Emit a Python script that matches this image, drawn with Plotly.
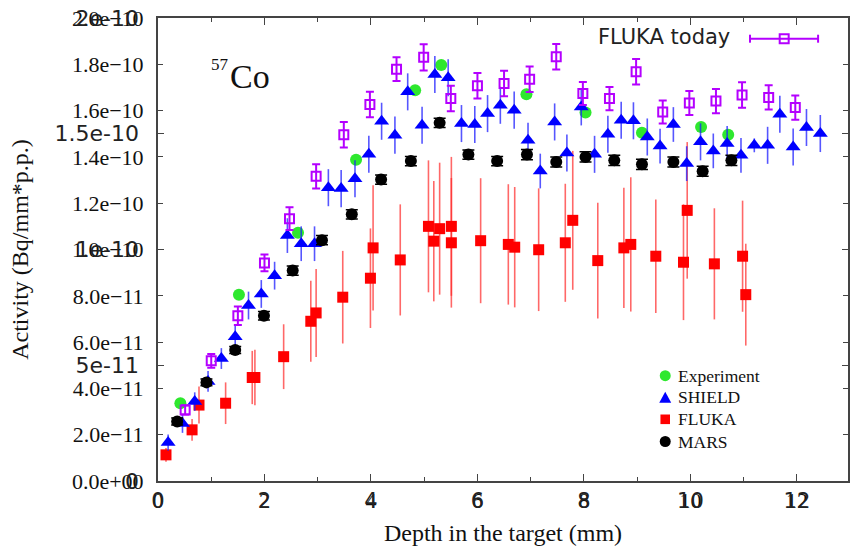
import numpy as np
import plotly.graph_objects as go

# ---------------- data (activity values in units of 1e-11 Bq/mm*p.p.) ----------------
SCALE = 1e-11

exp_depth = [0.42, 1.52, 2.63, 3.72, 4.83, 5.32, 6.92, 8.03, 9.09, 10.20, 10.71]
exp_act = [3.36, 8.05, 10.72, 13.88, 16.88, 17.97, 16.71, 15.92, 15.04, 15.29, 14.96]

shield_depth = [0.19, 0.46, 0.69, 0.94, 1.19, 1.45, 1.70, 1.94, 2.19, 2.43,
                2.69, 2.94, 3.20, 3.44, 3.70, 3.96, 4.20, 4.45, 4.69, 4.96,
                5.20, 5.45, 5.70, 5.95, 6.19, 6.43, 6.69, 6.95, 7.18, 7.45,
                7.68, 7.95, 8.20, 8.45, 8.70, 8.93, 9.19, 9.43, 9.68, 9.93,
                10.19, 10.43, 10.69, 10.95, 11.20, 11.45, 11.68, 11.93, 12.18, 12.44]
shield_act = [1.66, 2.48, 3.43, 4.30, 5.29, 6.23, 7.58, 8.08, 8.87, 10.60,
              10.25, 10.25, 12.67, 12.63, 13.06, 14.11, 15.54, 14.94, 16.81, 15.37,
              17.56, 17.42, 15.44, 15.40, 15.87, 16.23, 16.02, 14.72, 13.39, 15.51,
              14.17, 16.16, 14.11, 14.98, 15.58, 15.56, 14.86, 14.47, 15.40, 13.71,
              14.65, 14.26, 14.58, 14.07, 14.50, 14.50, 15.84, 14.43, 15.27, 15.01]
shield_err = [0.35, 0.40, 0.40, 0.45, 0.45, 0.50, 0.60, 0.60, 0.60, 0.75,
              0.75, 0.75, 0.80, 0.80, 0.80, 0.80, 0.80, 0.80, 0.80, 0.80,
              0.80, 0.80, 0.80, 0.80, 0.80, 0.80, 0.80, 0.75, 0.75, 0.80,
              0.80, 0.80, 0.80, 0.80, 0.80, 0.80, 0.80, 0.75, 0.75, 0.75,
              0.80, 0.75, 0.75, 0.75, 0.30, 0.80, 0.80, 0.80, 0.80, 0.80]

fluka_depth = [0.15, 0.64, 0.77, 1.27, 1.77, 1.82, 2.36, 2.87, 2.97, 3.47,
               3.99, 4.04, 4.55, 5.08, 5.18, 5.29, 5.51, 5.51, 6.06, 6.58,
               6.70, 7.15, 7.65, 7.79, 8.26, 8.75, 8.88, 9.35, 9.87, 9.94,
               10.45, 10.98, 11.04]
fluka_act = [1.13, 2.21, 3.28, 3.36, 4.47, 4.47, 5.37, 6.90, 7.26, 7.94,
             8.76, 10.07, 9.55, 11.00, 10.36, 10.90, 11.00, 10.29, 10.38, 10.22,
             10.10, 9.99, 10.29, 11.26, 9.52, 10.07, 10.22, 9.71, 9.45, 11.69,
             9.38, 9.71, 8.05]
fluka_err = [0.30, 0.47, 0.80, 0.90, 1.15, 1.20, 1.40, 1.75, 1.90, 2.00,
             2.15, 2.70, 2.40, 2.85, 2.60, 2.85, 3.00, 2.80, 2.70, 2.60,
             2.60, 2.65, 2.55, 3.00, 2.50, 2.60, 2.90, 2.45, 2.50, 2.95,
             2.40, 2.40, 2.20]

mars_depth = [0.36, 0.91, 1.45, 1.99, 2.53, 3.08, 3.64, 4.19, 4.75, 5.29,
              5.83, 6.37, 6.93, 7.48, 8.03, 8.57, 9.09, 9.68, 10.23, 10.77]
mars_act = [2.57, 4.26, 5.66, 7.14, 9.09, 10.40, 11.52, 13.02, 13.82, 15.47,
            14.10, 13.82, 14.10, 13.78, 14.00, 13.85, 13.68, 13.78, 13.38, 13.85]
mars_err = [0.15, 0.15, 0.15, 0.18, 0.20, 0.20, 0.20, 0.20, 0.20, 0.20,
            0.20, 0.20, 0.22, 0.22, 0.22, 0.22, 0.22, 0.22, 0.22, 0.22]

today_depth = [0.51, 1.00, 1.50, 2.00, 2.47, 2.97, 3.49, 3.98, 4.48, 4.99,
               5.50, 6.00, 6.50, 6.98, 7.48, 7.98, 8.48, 8.98, 9.48, 9.98,
               10.48, 10.97, 11.47, 11.97]
today_act = [3.07, 5.19, 7.14, 9.42, 11.33, 13.16, 14.96, 16.26, 17.79, 18.30,
             16.52, 17.07, 17.17, 17.35, 18.33, 16.74, 16.52, 17.68, 15.94, 16.33,
             16.41, 16.67, 16.57, 16.13]
today_err = [0.20, 0.30, 0.40, 0.36, 0.49, 0.52, 0.55, 0.55, 0.51, 0.57,
             0.55, 0.55, 0.55, 0.55, 0.55, 0.50, 0.50, 0.55, 0.50, 0.52,
             0.52, 0.55, 0.52, 0.52]

x_tickvals = [0, 2, 4, 6, 8, 10, 12]
x_ticktext = ["0", "2", "4", "6", "8", "10", "12"]
y_tickvals = [0, 2e-11, 4e-11, 6e-11, 8e-11, 1e-10, 1.2e-10, 1.4e-10, 1.6e-10, 1.8e-10, 2e-10]
y_ticktext = ["0.0e+00", "2.0e\u221211", "4.0e\u221211", "6.0e\u221211", "8.0e\u221211",
              "1.0e\u221210", "1.2e\u221210", "1.4e\u221210", "1.6e\u221210", "1.8e\u221210",
              "2.0e\u221210"]
y2_tickvals = [0, 5e-11, 1e-10, 1.5e-10, 2e-10]
y2_ticktext = ["0", "5e-11", "1e-10", "1.5e-10", "2e-10"]

legend_names = ["Experiment", "SHIELD", "FLUKA", "MARS"]
legend_colors = ["#2ee82e", "#0000ff", "#ff0000", "#000000"]
legend_symbols = ["circle", "triangle", "square", "circle"]

SERIF = "Liberation Serif, Times New Roman, serif"
SANS = "DejaVu Sans, sans-serif"
PURPLE = "#b400ff"
AX = "#444444"

# layout geometry (pixels) used only for placing the decorative key/labels
W, H = 850, 548
ML, MR, MT, MB = 158, 0, 18, 67
PW, PH = W - ML - MR, H - MT - MB


def px2x(px):
    return (px - ML) / PW


def py2y(py):
    return (H - MB - py) / PH


def sc(v):
    return np.array(v) * SCALE


fig = go.Figure()

fig.add_trace(go.Scatter(
    x=fluka_depth, y=sc(fluka_act), mode="markers", name="FLUKA",
    marker=dict(symbol="square", size=11, color="#ff0000"),
    error_y=dict(type="data", array=sc(fluka_err), color="rgba(255,40,40,0.7)",
                 thickness=1.6, width=0)))
fig.add_trace(go.Scatter(
    x=exp_depth, y=sc(exp_act), mode="markers", name="Experiment",
    marker=dict(symbol="circle", size=12, color="#2ee82e")))
fig.add_trace(go.Scatter(
    x=shield_depth, y=sc(shield_act), mode="markers", name="SHIELD",
    marker=dict(symbol="triangle-up", size=13, color="#0000ff"),
    error_y=dict(type="data", array=sc(shield_err), color="rgba(30,30,255,0.75)",
                 thickness=1.6, width=0)))
fig.add_trace(go.Scatter(
    x=mars_depth, y=sc(mars_act), mode="markers", name="MARS",
    marker=dict(symbol="circle", size=12, color="#000000"),
    error_y=dict(type="data", array=sc(mars_err), color="#000000",
                 thickness=1.5, width=6)))
fig.add_trace(go.Scatter(
    x=today_depth, y=sc(today_act), mode="markers", name="FLUKA today",
    marker=dict(symbol="square-open", size=9, color=PURPLE, line=dict(width=2, color=PURPLE)),
    error_y=dict(type="data", array=sc(today_err), color=PURPLE, thickness=2, width=4)))
# empty trace so the overlaid (second) axes are drawn
fig.add_trace(go.Scatter(x=[], y=[], xaxis="x2", yaxis="y2", hoverinfo="skip"))

fig.update_layout(
    width=W, height=H,
    margin=dict(l=ML, r=MR, t=MT, b=MB),
    paper_bgcolor="white", plot_bgcolor="white",
    showlegend=False,
    xaxis=dict(range=[0, 12.96], tickmode="array", tickvals=x_tickvals, ticktext=x_ticktext,
               tickfont=dict(family=SERIF, size=22, color="#111111"),
               ticks="inside", ticklen=7, tickwidth=1, tickcolor=AX,
               minor=dict(tickmode="linear", tick0=0, dtick=1, ticks="inside", ticklen=4,
                          tickcolor=AX, tickwidth=1, showgrid=False),
               showline=True, linewidth=2, linecolor=AX, mirror="ticks",
               showgrid=False, zeroline=False, ticklabelstandoff=-1,
               title=dict(text="Depth in the target (mm)",
                          font=dict(family=SERIF, size=24, color="#111111"), standoff=12)),
    yaxis=dict(range=[0, 2e-10], tickmode="array", tickvals=y_tickvals, ticktext=y_ticktext,
               tickfont=dict(family=SERIF, size=22, color="#111111"),
               ticks="inside", ticklen=5, tickwidth=1, tickcolor=AX,
               showline=True, linewidth=2, linecolor=AX, mirror="ticks",
               showgrid=False, zeroline=False, ticklabelstandoff=8,
               title=dict(text="Activity (Bq/mm*p.p.)",
                          font=dict(family=SERIF, size=24, color="#111111"), standoff=37)),
    xaxis2=dict(overlaying="x", anchor="y", side="bottom", range=[0, 12.96],
                tickmode="array", tickvals=x_tickvals, ticktext=x_ticktext,
                tickfont=dict(family=SANS, size=21, color="#222222"),
                ticks="inside", ticklen=5, tickcolor=AX, mirror="ticks",
                showline=False, showgrid=False, zeroline=False, ticklabelstandoff=5),
    yaxis2=dict(overlaying="y", anchor="x", side="left", range=[0, 2e-10],
                tickmode="array", tickvals=y2_tickvals, ticktext=y2_ticktext,
                tickfont=dict(family=SANS, size=22, color="#222222"),
                ticks="inside", ticklen=6, tickcolor=AX, mirror="ticks",
                showline=False, showgrid=False, zeroline=False, ticklabelstandoff=18),
)

# isotope label
fig.add_annotation(x=px2x(220), y=py2y(64), xref="paper", yref="paper", text="57",
                   showarrow=False, xanchor="center", yanchor="middle",
                   font=dict(family=SERIF, size=17, color="#111111"))
fig.add_annotation(x=px2x(250), y=py2y(77), xref="paper", yref="paper", text="Co",
                   showarrow=False, xanchor="center", yanchor="middle",
                   font=dict(family=SERIF, size=34, color="#111111"))

# "FLUKA today" key (text left of sample, as in the original)
fig.add_annotation(x=px2x(734), y=py2y(37), xref="paper", yref="paper", text="FLUKA today",
                   showarrow=False, xanchor="right", yanchor="middle",
                   font=dict(family=SANS, size=21, color="#222222"))
ky = py2y(38.7)
kx0, kx1, kxc = px2x(751.7), px2x(820), px2x(786)
fig.add_shape(type="line", xref="paper", yref="paper", x0=kx0, x1=kx1, y0=ky, y1=ky,
              line=dict(color=PURPLE, width=2))
for cx in (kx0, kx1):
    fig.add_shape(type="line", xref="paper", yref="paper", x0=cx, x1=cx,
                  y0=ky - 4 / PH, y1=ky + 4 / PH, line=dict(color=PURPLE, width=2))
fig.add_shape(type="rect", xref="paper", yref="paper", x0=kxc - 4.5 / PW, x1=kxc + 4.5 / PW,
              y0=ky - 4.5 / PH, y1=ky + 4.5 / PH, line=dict(color=PURPLE, width=2))

# key for the four simulation/experiment series (symbol + name)
row_y = [375.7, 397.2, 419.3, 441.5]
sym_x = 666.7
for name, col, sym, ry in zip(legend_names, legend_colors, legend_symbols, row_y):
    cy = py2y(ry)
    cx = px2x(sym_x)
    if sym == "circle":
        r = 5.5
        fig.add_shape(type="circle", xref="paper", yref="paper",
                      x0=cx - r / PW, x1=cx + r / PW, y0=cy - r / PH, y1=cy + r / PH,
                      fillcolor=col, line=dict(color=col, width=0))
    elif sym == "square":
        r = 4.8
        fig.add_shape(type="rect", xref="paper", yref="paper",
                      x0=cx - r / PW, x1=cx + r / PW, y0=cy - r / PH, y1=cy + r / PH,
                      fillcolor=col, line=dict(color=col, width=0))
    else:
        hw, h = 6.0, 11.0
        path = "M {:.5f},{:.5f} L {:.5f},{:.5f} L {:.5f},{:.5f} Z".format(
            cx - hw / PW, cy - (h / 2) / PH, cx + hw / PW, cy - (h / 2) / PH,
            cx, cy + (h / 2) / PH)
        fig.add_shape(type="path", xref="paper", yref="paper", path=path,
                      fillcolor=col, line=dict(color=col, width=0))
    fig.add_annotation(x=px2x(677), y=cy, xref="paper", yref="paper", text=name,
                       showarrow=False, xanchor="left", yanchor="middle",
                       font=dict(family=SERIF, size=17.5, color="#111111"))

fig.write_html("out.html")
